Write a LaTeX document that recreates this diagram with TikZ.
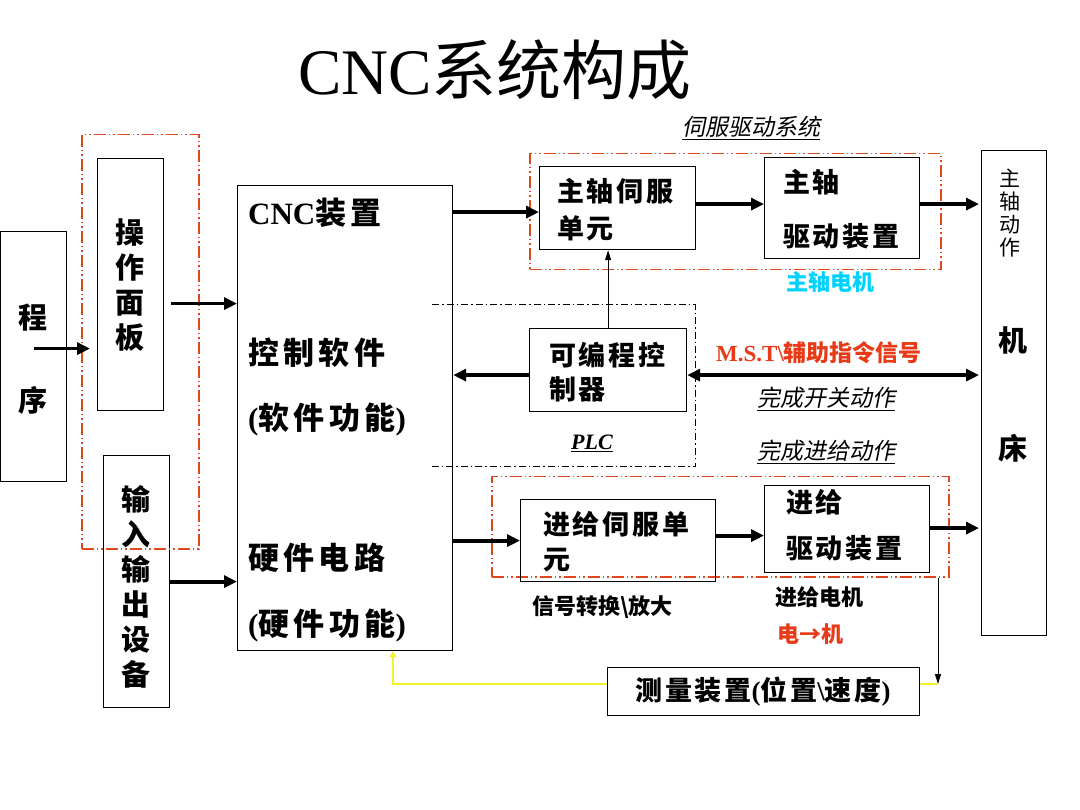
\documentclass[tikz,border=0pt]{standalone}
\usepackage{fontspec}
\setmainfont{Liberation Serif}
\newfontfamily\cjk{Noto Sans CJK SC}
\newfontfamily\cjkb[LetterSpace=10]{Noto Sans CJK SC}
\newfontfamily\cjkc[LetterSpace=14]{Noto Sans CJK SC}
\newfontfamily\cjki[FakeSlant=0.2]{Noto Sans CJK SC}
\usetikzlibrary{arrows.meta,calc}
\definecolor{dred}{RGB}{222,72,28}
\definecolor{tred}{RGB}{232,58,22}
\definecolor{tcyan}{RGB}{0,210,255}
\definecolor{yel}{RGB}{245,240,40}
\newcommand\fs[2]{\fontsize{#1}{#2}\selectfont}
\begin{document}
\begin{tikzpicture}[x=1pt,y=-1pt,
  box/.style={draw,line width=1.2pt,inner sep=0pt,anchor=north west},
  rbox/.style={draw=dred,line width=1.5pt,dash pattern=on 12pt off 3pt on 1.5pt off 3pt on 1.5pt off 3pt,inner sep=0pt,anchor=north west},
  pdash/.style={draw,line width=1pt,dash pattern=on 7pt off 3pt on 1.5pt off 3pt},
  arr/.style={line width=3.8pt,-{Triangle[length=13pt,width=12pt]}},
  darr/.style={line width=3.8pt,{Triangle[length=13pt,width=12pt]}-{Triangle[length=13pt,width=12pt]}},
  tarr/.style={line width=1pt,-{Triangle[length=10pt,width=6pt]}},
  yline/.style={line width=2pt,draw=yel},
  yarr/.style={line width=2pt,draw=yel,-{Triangle[length=6pt,width=7pt]}},
  bt/.style={font=\cjkb\bfseries\fs{27}{34},inner sep=0pt,anchor=west},
  ct/.style={font=\cjkc\bfseries\fs{31}{38},inner sep=0pt,anchor=west},
  st/.style={font=\cjk\bfseries\fs{22}{26},inner sep=0pt,anchor=west},
  it/.style={font=\cjki\fs{23}{28},inner sep=0pt,anchor=west},
  vt/.style={font=\cjk\bfseries\fs{29}{35},inner sep=0pt,align=center},
]
\useasboundingbox[fill=white] (0,0) rectangle (1080,810);

% title
\node[inner sep=0pt,font=\fs{65}{70}] (title) at (495,70) {CNC{\cjk 系统构成}};

% boxes
\node[box,minimum width=66,minimum height=250] (prog) at (0,231) {};
\node[box,minimum width=66,minimum height=252] (panel) at (97,158) {};
\node[box,minimum width=66,minimum height=252] (io) at (103,455) {};
\node[rbox,minimum width=117,minimum height=414] (lbox) at (81,134) {};
\node[box,minimum width=215,minimum height=465] (cnc) at (237,185) {};
\node[rbox,minimum width=411,minimum height=116] (sbox) at (529,153) {};
\node[box,minimum width=156,minimum height=83] (ss) at (539,166) {};
\node[box,minimum width=155,minimum height=101] (sd) at (764,157) {};
\node[box,minimum width=65,minimum height=485] (mach) at (981,150) {};
\node[box,minimum width=157,minimum height=83] (plc) at (529,328) {};
\node[rbox,minimum width=457,minimum height=100] (fbox) at (491,476) {};
\node[box,minimum width=195,minimum height=82] (fs) at (520,499) {};
\node[box,minimum width=165,minimum height=87] (fd) at (764,485) {};
\node[box,minimum width=312,minimum height=48] (meas) at (607,667) {};

% PLC dashed frame
\coordinate (pa) at (432,305);
\coordinate (pb) at (695,305);
\coordinate (pc) at (695,467);
\coordinate (pd) at (432,467);
\draw[pdash] (pa) -- (pb) -- (pc) -- (pd);

% texts in left boxes
\node[vt] (prog1) at (33,318) {程};
\node[vt] (prog2) at (33,400) {序};
\node[vt] (panelt) at (130,285) {操\\作\\面\\板};
\node[vt] (iot) at (136,587) {输\\入\\输\\出\\设\\备};

% CNC box texts
\node[ct] (c1) at (248,213) {{\rmfamily CNC}装置};
\node[ct] (c2) at (248,353) {控制软件};
\node[ct] (c3) at (248,420) {{\rmfamily(}软件功能{\rmfamily)}};
\node[ct] (c4) at (248,558) {硬件电路};
\node[ct] (c5) at (248,625) {{\rmfamily(}硬件功能{\rmfamily)}};

% spindle
\node[it,anchor=center] (servo) at (751,128) {\underline{伺服驱动系统}};
\node[bt] (ss1) at (557,191) {主轴伺服};
\node[bt] (ss2) at (557,228) {单元};
\node[bt] (sd1) at (783,182) {主轴};
\node[bt] (sd2) at (783,236) {驱动装置};
\node[st,text=tcyan] (smot) at (786,282) {主轴电机};

% PLC
\node[bt] (plc1) at (549,355) {可编程控};
\node[bt] (plc2) at (549,389) {制器};
\node[inner sep=0pt,font=\rmfamily\bfseries\itshape\fs{22}{26}] (plcl) at (592,443) {\underline{PLC}};
\node[st,font=\cjk\bfseries\fs{23}{27},text=tred] (mst) at (716,353) {{\rmfamily M.S.T\textbackslash}辅助指令信号};
\node[it] (kg) at (757,399) {\underline{完成开关动作}};
\node[it] (jg) at (757,452) {\underline{完成进给动作}};

% feed
\node[bt] (fs1) at (543,524) {进给伺服单};
\node[bt] (fs2) at (543,560) {元};
\node[bt] (fd1) at (786,502) {进给};
\node[bt] (fd2) at (786,548) {驱动装置};
\node[st] (sig) at (532,607) {信号转换\textbackslash 放大};
\node[st] (fmot) at (775,597) {进给电机};
\node[st,text=tred] (em) at (777,634) {电→机};

% measurement
\node[inner sep=0pt,font=\cjkb\bfseries\fs{27}{32}] (meast) at (763,692) {测量装置{\rmfamily(}位置{\rmfamily\textbackslash}速度{\rmfamily)}};

% machine
\node[inner sep=0pt,align=center,font=\cjk\fs{21}{23}] (m1) at (1010,213) {主\\轴\\动\\作};
\node[vt] (m2) at (1013,340) {机};
\node[vt] (m3) at (1013,448) {床};

% connectors
\draw[arr] ($(prog.center)+(0,-8)$) -- ($(panel.west |- prog.center)+(-7,-8)$);
\draw[arr] ($(panel.east)+(7,19)$) -- ($(panel.east -| cnc.west)+(0,19)$);
\draw[arr] (io.east) -- (io.east -| cnc.west);
\draw[arr] ($(cnc.east |- ss.west)+(0,4)$) -- ($(ss.west)+(0,4)$);
\draw[arr] ($(ss.east)+(0,-4)$) -- ($(ss.east -| sd.west)+(0,-4)$);
\draw[arr] ($(sd.east)+(0,-4)$) -- ($(sd.east -| mach.west)+(-2,-4)$);
\draw[tarr] (plc.north) -- (plc.north |- ss.south);
\draw[arr] ($(plc.west)+(0,5)$) -- ($(plc.west -| cnc.east)+(0,5)$);
\draw[darr] ($(plc.east)+(0,5)$) -- ($(plc.east -| mach.west)+(-2,5)$);
\draw[arr] (cnc.east |- fs.west) -- (fs.west);
\draw[arr] ($(fs.east)+(0,-5)$) -- ($(fs.east -| fd.west)+(0,-5)$);
\draw[arr] ($(fd.east)+(0,-1)$) -- ($(fd.east -| mach.west)+(-2,-1)$);
\coordinate (mr) at (938,684);
\coordinate (yl) at (393,684);
\draw[tarr] (fbox.south -| mr) -- (mr);
\draw[yline] (meas.east |- mr) -- (mr);
\draw[yarr] (meas.west |- mr) -- (yl) -- (yl |- cnc.south);
\end{tikzpicture}
\end{document}
